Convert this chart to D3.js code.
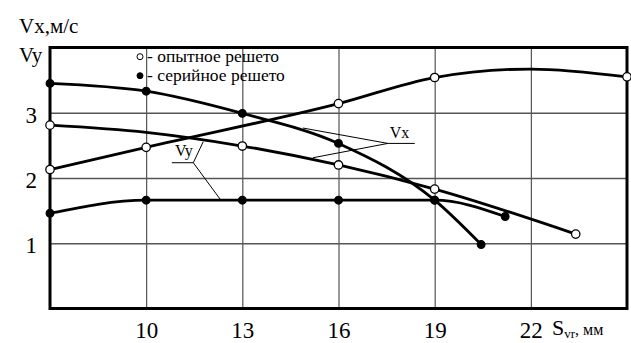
<!DOCTYPE html>
<html>
<head>
<meta charset="utf-8">
<script src="https://cdn.jsdelivr.net/npm/d3@7"></script>
<style>
  body { margin: 0; background: #fff; }
  text { font-family: "Liberation Serif", "Times New Roman", serif; fill: #000; }
</style>
</head>
<body>
<div id="chart"></div>
<script>
// S values (mm) and speeds (m/s)
// marker flags: 1 = a circle is drawn at that point
var vxOpenS = [7, 10, 16, 19, 22, 25];
var vxOpenV = [2.13, 2.47, 3.14, 3.54, 3.67, 3.55];
var vxOpenMark = [1, 1, 1, 1, 0, 1];

var vyOpenS = [7, 10, 13, 16, 19, 23.4];
var vyOpenV = [2.81, 2.70, 2.49, 2.20, 1.83, 1.14];
var vyOpenMark = [1, 0, 1, 1, 1, 1];

var vxSerS = [7, 10, 13, 16, 19, 20.45];
var vxSerV = [3.45, 3.33, 2.99, 2.53, 1.66, 0.98];

var vySerS = [7, 10, 13, 16, 19, 21.2];
var vySerV = [1.46, 1.66, 1.66, 1.66, 1.66, 1.41];

var xTicks = [10, 13, 16, 19, 22];
var yTicks = [1, 2, 3];

var legendLabels = ["- опытное решето", "- серийное решето"];

// callout labels: text position, underline, leader start and ends (data units)
var vxCallout = {label: "Vx", tx: 17.6, ty: 2.61, u0: 17.54, u1: 18.38, uy: 2.53, from: 17.54,
                 ends: [[14.89, 2.766], [15.2, 2.31]]};
var vyCallout = {label: "Vy", tx: 10.9, ty: 2.33, u0: 10.80, u1: 11.47, uy: 2.234, from: 11.47,
                 ends: [[11.78, 2.556], [12.33, 1.66]]};

document.addEventListener("DOMContentLoaded", function () {
    drawChart();
});

function zipSeries(s, v, m) {
    return s.map((d, i) => ({s: d, v: v[i], mark: m ? m[i] : 1}));
}

function drawChart() {
    const margin = {top: 47.5, right: 4, bottom: 34.5, left: 50};
    const width = 631 - margin.left - margin.right;
    const height = 343 - margin.top - margin.bottom;

    var root = d3.select("#chart")
        .append("svg")
            .attr("width", 631)
            .attr("height", 343);

    var svg = root.append("g")
        .attr("transform", `translate(${margin.left}, ${margin.top})`);

    var xScale = d3.scaleLinear()
        .domain([7, 25])
        .range([0, width]);

    var yScale = d3.scaleLinear()
        .domain([0, 4])
        .range([height, 0]);

    //vertical grid + x tick labels
    var xAxis = svg.append("g")
        .attr("transform", "translate(0," + height + ")")
        .call(d3.axisBottom(xScale).tickValues(xTicks).tickSize(-height).tickPadding(0)
            .tickFormat(d3.format("d")));
    xAxis.select(".domain").remove();
    xAxis.selectAll("line").attr("stroke", "#444").attr("stroke-width", 1.1);
    xAxis.selectAll("text")
        .attr("y", 29)
        .attr("dy", 0)
        .style("font-size", "23px")
        .style("font-family", "Liberation Serif");

    //horizontal grid + y tick labels
    var yAxis = svg.append("g")
        .call(d3.axisLeft(yScale).tickValues(yTicks).tickSize(-width).tickPadding(13)
            .tickFormat(d3.format("d")));
    yAxis.select(".domain").remove();
    yAxis.selectAll("line").attr("stroke", "#555").attr("stroke-width", 1.4);
    yAxis.selectAll("text")
        .attr("dy", 9.5)
        .style("font-size", "23px")
        .style("font-family", "Liberation Serif");

    //frame
    svg.append("rect")
        .attr("x", 0)
        .attr("y", 0)
        .attr("width", width)
        .attr("height", height)
        .attr("fill", "none")
        .attr("stroke", "black")
        .attr("stroke-width", 3);

    var line = d3.line()
        .x(d => xScale(d.s))
        .y(d => yScale(d.v))
        .curve(d3.curveMonotoneX);

    var series = [
        {data: zipSeries(vxOpenS, vxOpenV, vxOpenMark), open: true},
        {data: zipSeries(vyOpenS, vyOpenV, vyOpenMark), open: true},
        {data: zipSeries(vxSerS, vxSerV), open: false},
        {data: zipSeries(vySerS, vySerV), open: false}
    ];

    series.forEach(function (sr) {
        svg.append("path")
            .datum(sr.data)
            .attr("fill", "none")
            .attr("stroke", "black")
            .attr("stroke-width", 2.8)
            .attr("d", line);
    });

    // callouts (thin lines)
    [vxCallout, vyCallout].forEach(function (c) {
        var g = svg.append("g");
        g.append("line")
            .attr("x1", xScale(c.u0)).attr("x2", xScale(c.u1))
            .attr("y1", yScale(c.uy)).attr("y2", yScale(c.uy))
            .attr("stroke", "black").attr("stroke-width", 1);
        c.ends.forEach(function (e) {
            g.append("line")
                .attr("x1", xScale(c.from))
                .attr("y1", yScale(c.uy))
                .attr("x2", xScale(e[0]))
                .attr("y2", yScale(e[1]))
                .attr("stroke", "black").attr("stroke-width", 1);
        });
        g.append("text")
            .attr("x", xScale(c.tx))
            .attr("y", yScale(c.ty))
            .style("font-size", "16px")
            .text(c.label);
    });

    series.forEach(function (sr) {
        svg.selectAll(null)
            .data(sr.data.filter(d => d.mark))
            .join("circle")
            .attr("cx", d => xScale(d.s))
            .attr("cy", d => yScale(d.v))
            .attr("r", sr.open ? 4.2 : 3.8)
            .attr("fill", sr.open ? "white" : "black")
            .attr("stroke", "black")
            .attr("stroke-width", 1.3);
    });

    //legend
    legendLabels.forEach(function (lbl, i) {
        var ly = 9.2 + i * 19;
        svg.append("circle")
            .attr("cx", 90)
            .attr("cy", ly)
            .attr("r", 3)
            .attr("fill", i === 0 ? "white" : "black")
            .attr("stroke", "black")
            .attr("stroke-width", 1);
        svg.append("text")
            .attr("x", 97)
            .attr("y", ly + 5)
            .style("font-size", "17.5px")
            .text(lbl);
    });

    //axis titles
    root.append("text")
        .attr("x", 19)
        .attr("y", 33)
        .style("font-size", "21px")
        .text("Vx,м/с");
    root.append("text")
        .attr("x", 19)
        .attr("y", 62)
        .style("font-size", "21px")
        .text("Vy");

    var xt = root.append("text")
        .attr("x", 552)
        .attr("y", 335)
        .style("font-size", "22px");
    xt.append("tspan").text("S");
    xt.append("tspan").attr("dy", 3).style("font-size", "13px").text("vr");
    xt.append("tspan").attr("dy", -3).style("font-size", "16px").text(", мм");
}
</script>
</body>
</html>
